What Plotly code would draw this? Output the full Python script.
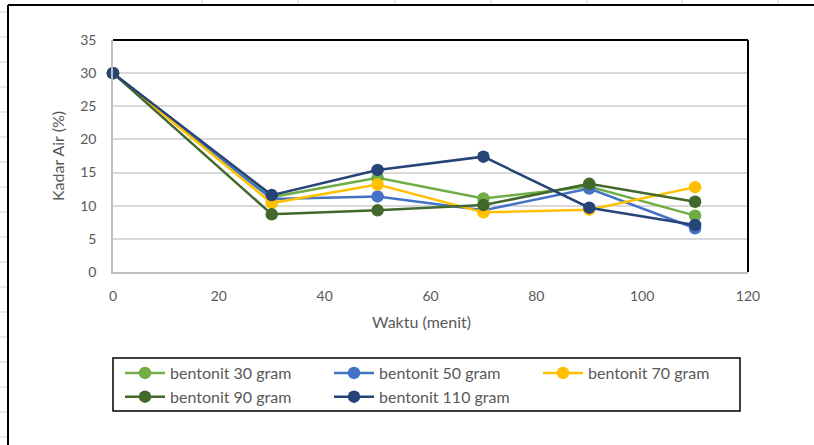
import plotly.graph_objects as go

waktu = [0, 30, 50, 70, 90, 110]
b30 = [30, 11.3, 14.2, 11.1, 12.9, 8.5]
b50 = [30, 11.0, 11.4, 9.3, 12.6, 6.6]
b70 = [30, 10.4, 13.2, 9.0, 9.4, 12.8]
b90 = [30, 8.7, 9.3, 10.1, 13.3, 10.6]
b110 = [30, 11.6, 15.4, 17.4, 9.7, 7.1]

names = ["bentonit 30 gram", "bentonit 50 gram", "bentonit 70 gram",
         "bentonit 90 gram", "bentonit 110 gram"]
colors = ["#70AD47", "#4472C4", "#FFC000", "#43682B", "#264478"]
series = [b30, b50, b70, b90, b110]

FONT = "Lato"
TXT = "#595959"

fig = go.Figure()
for n, c, s in zip(names, colors, series):
    fig.add_trace(go.Scatter(
        x=waktu, y=s, name=n, mode="lines+markers",
        line=dict(color=c, width=2.5),
        marker=dict(color=c, size=12.5),
        cliponaxis=False,
    ))

W, H = 814, 445
L, R, T, B = 113, 748, 40, 272

def px(x):
    return (x - L) / (R - L)

def py(y):
    return (B - y) / (B - T)

shapes = []
# plot frame top & right black
shapes.append(dict(type="line", xref="paper", yref="paper", x0=0, x1=1, y0=1, y1=1,
                   line=dict(color="black", width=2)))
shapes.append(dict(type="line", xref="paper", yref="paper", x0=1, x1=1, y0=0, y1=1,
                   line=dict(color="black", width=2)))
# outer chart border
shapes.append(dict(type="line", xref="paper", yref="paper", x0=px(8), x1=px(816), y0=py(5), y1=py(5),
                   line=dict(color="black", width=2)))
shapes.append(dict(type="line", xref="paper", yref="paper", x0=px(8), x1=px(8), y0=py(5), y1=py(447),
                   line=dict(color="black", width=2)))
# spreadsheet cell ticks
for cx in [202, 298, 395, 491, 587, 682, 778]:
    shapes.append(dict(type="line", xref="paper", yref="paper", x0=px(cx), x1=px(cx), y0=py(0), y1=py(4),
                       line=dict(color="#D4D4D4", width=1)))
for ry in range(12, 445, 25):
    shapes.append(dict(type="line", xref="paper", yref="paper", x0=px(0), x1=px(7), y0=py(ry), y1=py(ry),
                       line=dict(color="#D4D4D4", width=1)))
# legend box
shapes.append(dict(type="rect", xref="paper", yref="paper", x0=px(113), x1=px(740), y0=py(358), y1=py(411),
                   line=dict(color="black", width=1.5), fillcolor="rgba(0,0,0,0)"))

fig.update_layout(
    width=W, height=H,
    margin=dict(l=L, r=W - R, t=T, b=H - B),
    paper_bgcolor="white", plot_bgcolor="white",
    font=dict(family=FONT, color=TXT, size=14),
    shapes=shapes,
    showlegend=True,
    legend=dict(
        orientation="h", x=px(120), y=py(356), xanchor="left", yanchor="top",
        font=dict(family=FONT, size=16, color=TXT),
        entrywidth=154, itemwidth=40, tracegroupgap=0,
        bgcolor="rgba(0,0,0,0)",
    ),
    annotations=[dict(text="Waktu (menit)", xref="paper", yref="paper",
                      x=px(421), y=py(321), showarrow=False,
                      xanchor="center", yanchor="middle",
                      font=dict(size=16, color=TXT, family=FONT))],
    xaxis=dict(
        range=[0, 120], dtick=20, tick0=0,
        showgrid=False, zeroline=False,
        showline=True, linecolor="#BFBFBF", linewidth=1.5,
        ticks="", ticklabelstandoff=10,
        tickfont=dict(size=14, color=TXT),
    ),
    yaxis=dict(
        range=[0, 35], dtick=5, tick0=0,
        showgrid=True, gridcolor="#D9D9D9", gridwidth=1.5,
        zeroline=False,
        showline=True, linecolor="#BFBFBF", linewidth=1.5,
        ticks="", ticklabelstandoff=12,
        tickfont=dict(size=14, color=TXT),
        title=dict(text="Kadar Air (%)", font=dict(size=16, color=TXT), standoff=12),
    ),
)

fig.write_html("out.html", config={"displayModeBar": False},
               post_script="document.body.style.margin='0';")
